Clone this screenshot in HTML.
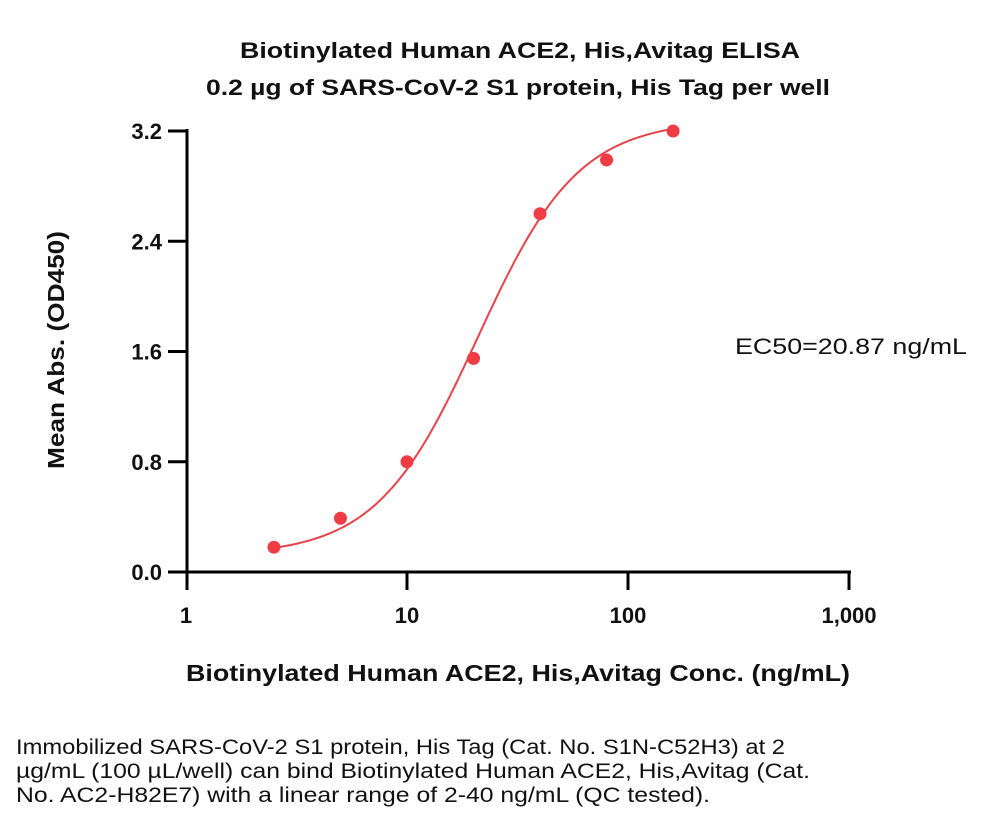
<!DOCTYPE html>
<html><head><meta charset="utf-8"><style>
html,body{margin:0;padding:0;background:#fff;}
svg{display:block;font-family:"Liberation Sans",sans-serif;}
</style></head><body>
<svg id="chart" width="1000" height="829">
<g font-size="21" fill="#111">
<text x="16" y="754" textLength="769" lengthAdjust="spacingAndGlyphs">Immobilized SARS-CoV-2 S1 protein, His Tag (Cat. No. S1N-C52H3) at 2</text>
<text x="16" y="778" textLength="794" lengthAdjust="spacingAndGlyphs">µg/mL (100 µL/well) can bind Biotinylated Human ACE2, His,Avitag (Cat.</text>
<text x="16" y="802" textLength="694" lengthAdjust="spacingAndGlyphs">No. AC2-H82E7) with a linear range of 2-40 ng/mL (QC tested).</text>
</g>
</svg>
<script>
const concentrations=[2.5,5,10,20,40,80,160];
const absorbances=[0.18,0.39,0.80,1.55,2.60,2.99,3.20];
const yTicks=[0,0.8,1.6,2.4,3.2];
const yTickLabels=["0.0","0.8","1.6","2.4","3.2"];
const xTicks=[1,10,100,1000];
const xTickLabels=["1","10","100","1,000"];
const fitBottom=[0.12];const fitTop=[3.28];const fitEC50=[20.87];const fitHill=[1.9];
const NS="http://www.w3.org/2000/svg";
const svg=document.getElementById('chart');
const X0=186,DEC=221,Y0=572,YS=110.25/0.8;
const xs=v=>X0+Math.log10(v)*DEC;
const ys=v=>Y0-v*YS;
function mk(t,a){const e=document.createElementNS(NS,t);for(const k in a)e.setAttribute(k,a[k]);svg.appendChild(e);return e;}
function txt(s,a){const e=mk('text',a);e.textContent=s;return e;}
let e;
e=txt("Biotinylated Human ACE2, His,Avitag ELISA",{x:520,y:58,'text-anchor':'middle','font-size':22,'font-weight':'bold',fill:'#111',textLength:560,lengthAdjust:'spacingAndGlyphs'});


e=txt("0.2 µg of SARS-CoV-2 S1 protein, His Tag per well",{x:518,y:95,'text-anchor':'middle','font-size':22,'font-weight':'bold',fill:'#111',textLength:624,lengthAdjust:'spacingAndGlyphs'});


e=mk('line',{x1:187,y1:129,x2:187,y2:573.5,stroke:'#000','stroke-width':3});


e=mk('line',{x1:185.5,y1:572,x2:851,y2:572,stroke:'#000','stroke-width':3});


yTicks.forEach((v,i)=>{
 e=mk('line',{x1:168,y1:ys(v),x2:187,y2:ys(v),stroke:'#000','stroke-width':3});
 
 
 e=txt(yTickLabels[i],{x:162,y:ys(v)+8,'text-anchor':'end','font-size':22,'font-weight':'bold',fill:'#111'});
 
 
});
xTicks.forEach((v,i)=>{
 const xx=xs(v)+(i==0?1:0);
 e=mk('line',{x1:xx,y1:572,x2:xx,y2:590,stroke:'#000','stroke-width':3});
 
 
 e=txt(xTickLabels[i],{x:xs(v),y:623,'text-anchor':'middle','font-size':22,'font-weight':'bold',fill:'#111'});
 
 
});
e=txt("Mean Abs. (OD450)",{x:0,y:0,transform:'translate(64,350) rotate(-90)','text-anchor':'middle','font-size':23,'font-weight':'bold',fill:'#111',textLength:238,lengthAdjust:'spacingAndGlyphs'});


e=txt("Biotinylated Human ACE2, His,Avitag Conc. (ng/mL)",{x:518,y:681,'text-anchor':'middle','font-size':23,'font-weight':'bold',fill:'#111',textLength:664,lengthAdjust:'spacingAndGlyphs'});


e=txt("EC50=20.87 ng/mL",{x:735,y:354,'font-size':22,fill:'#111',textLength:232,lengthAdjust:'spacingAndGlyphs'});


const fit=c=>fitBottom[0]+(fitTop[0]-fitBottom[0])/(1+Math.pow(fitEC50[0]/c,fitHill[0]));
const lo=Math.log10(concentrations[0]),hi=Math.log10(concentrations[concentrations.length-1]);
let d="";for(let i=0;i<=200;i++){const c=Math.pow(10,lo+(hi-lo)*i/200);d+=(i?"L":"M")+xs(c).toFixed(2)+","+ys(fit(c)).toFixed(2);}
e=mk('path',{d:d,fill:'none',stroke:'#e8434a','stroke-width':2});


concentrations.forEach((c,i)=>{
 e=mk('circle',{cx:xs(c),cy:ys(absorbances[i]),r:6.5,fill:'#f03c45'});
 
 
});
</script>
</body></html>
